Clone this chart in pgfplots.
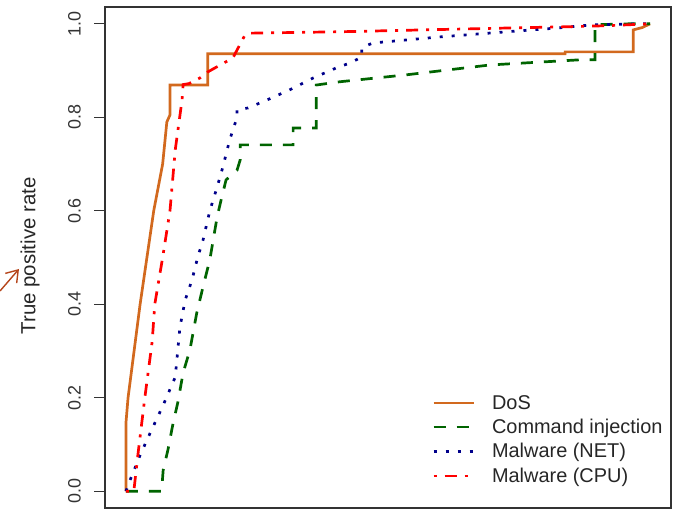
\documentclass[border=0pt]{standalone}
\usepackage{fontspec}
\setmainfont{Liberation Sans}
\usepackage{pgfplots}
\pgfplotsset{compat=1.18}
\usetikzlibrary{arrows.meta}
\definecolor{dosc}{HTML}{D2691E}
\definecolor{cmdc}{HTML}{006400}
\definecolor{netc}{HTML}{00008B}
\definecolor{cpuc}{HTML}{FF0000}
\definecolor{arrc}{HTML}{B5451B}
\begin{document}
\begin{tikzpicture}
\useasboundingbox (0bp,0bp) rectangle (677bp,511bp);
\begin{axis}[
  at={(105bp,3bp)}, anchor=south west,
  scale only axis, width=566bp, height=501bp,
  xmin=-0.04, xmax=1.04, ymin=-0.036, ymax=1.036,
  xtick=\empty,
  ytick={0,0.2,0.4,0.6,0.8,1.0},
  yticklabels={0.0,0.2,0.4,0.6,0.8,1.0},
  ytick pos=left,
  tick align=outside, major tick length=11bp,
  tick style={black!80, line width=1bp},
  axis line style={line width=1.2bp, black!80},
  /pgf/number format/assume math mode=true,
  yticklabel style={rotate=90, anchor=south, font=\fontsize{18}{21}\selectfont, color=black!80, inner sep=0pt, yshift=13bp},
  ylabel={True positive rate},
  every axis y label/.style={at={(axis description cs:-0.1325,0.503)}, rotate=90, anchor=center, font=\fontsize{20.5}{24}\selectfont, color=black!85},
  legend style={draw=none, fill=none, at={(axis description cs:0.578,0.2295)}, anchor=north west,
    font=\fontsize{20}{23}\selectfont, row sep=4.5bp, inner sep=0pt, color=black!85, cells={anchor=west},
    nodes={inner xsep=0pt}},
  legend image code/.code={\draw[#1] (0bp,0bp) -- (40bp,0bp); \path (57bp,0bp);},
  legend cell align=left,
]
\addplot[dosc, line width=2.7bp] coordinates {
(0,0) (0,0.146) (0.004,0.2) (0.027,0.4) (0.053,0.6) (0.070,0.70) (0.078,0.79) (0.084,0.805) (0.084,0.869)
(0.156,0.869) (0.156,0.936) (0.838,0.936) (0.838,0.94) (0.968,0.94) (0.968,0.987) (0.985,0.992) (1,1)};
\addlegendentry{DoS}
\addplot[cmdc, line width=2.7bp, dash pattern=on 12bp off 11bp] coordinates {
(0,0) (0.068,0) (0.071,0.045) (0.08,0.088) (0.09,0.146) (0.099,0.19) (0.109,0.253) (0.122,0.302)
(0.135,0.381) (0.147,0.437) (0.16,0.495) (0.174,0.587) (0.183,0.63) (0.191,0.666) (0.212,0.687)
(0.218,0.709) (0.218,0.741) (0.319,0.741) (0.319,0.777) (0.363,0.777) (0.363,0.869) (0.408,0.876)
(0.536,0.891) (0.695,0.912) (0.866,0.923) (0.895,0.923) (0.895,0.998) (0.96,1.0) (1,1)};
\addlegendentry{Command injection}
\addplot[netc, line width=2.7bp, dash pattern=on 3bp off 9bp] coordinates {
(0,0) (0.008,0.024) (0.027,0.077) (0.046,0.124) (0.071,0.184) (0.094,0.244) (0.103,0.351)
(0.113,0.409) (0.126,0.452) (0.137,0.501) (0.147,0.537) (0.16,0.60) (0.174,0.651) (0.185,0.694)
(0.198,0.752) (0.212,0.80) (0.212,0.816) (0.233,0.82) (0.269,0.837) (0.313,0.859) (0.357,0.884)
(0.402,0.906) (0.427,0.916) (0.45,0.929) (0.45,0.949) (0.471,0.959) (0.599,0.972) (0.727,0.983)
(0.823,0.991) (0.891,0.998) (0.981,1.0) (1,1)};
\addlegendentry{Malware (NET)}
\addplot[cpuc, line width=2.7bp, dash pattern=on 3bp off 8bp on 12bp off 8bp] coordinates {
(0,0) (0.015,0) (0.023,0.08) (0.036,0.2) (0.05,0.32) (0.055,0.4) (0.07,0.5) (0.084,0.6) (0.094,0.73)
(0.107,0.837) (0.109,0.87) (0.120,0.872) (0.141,0.884) (0.156,0.897) (0.204,0.927) (0.227,0.976)
(0.237,0.98) (0.408,0.983) (0.727,0.991) (0.853,0.994) (0.918,0.996) (1,1)};
\addlegendentry{Malware (CPU)}
\end{axis}
\draw[arrc, line width=1.4bp, -{Straight Barb[length=11bp, width=15bp]}] (0bp,220bp) -- (19bp,242bp);
\end{tikzpicture}
\end{document}
